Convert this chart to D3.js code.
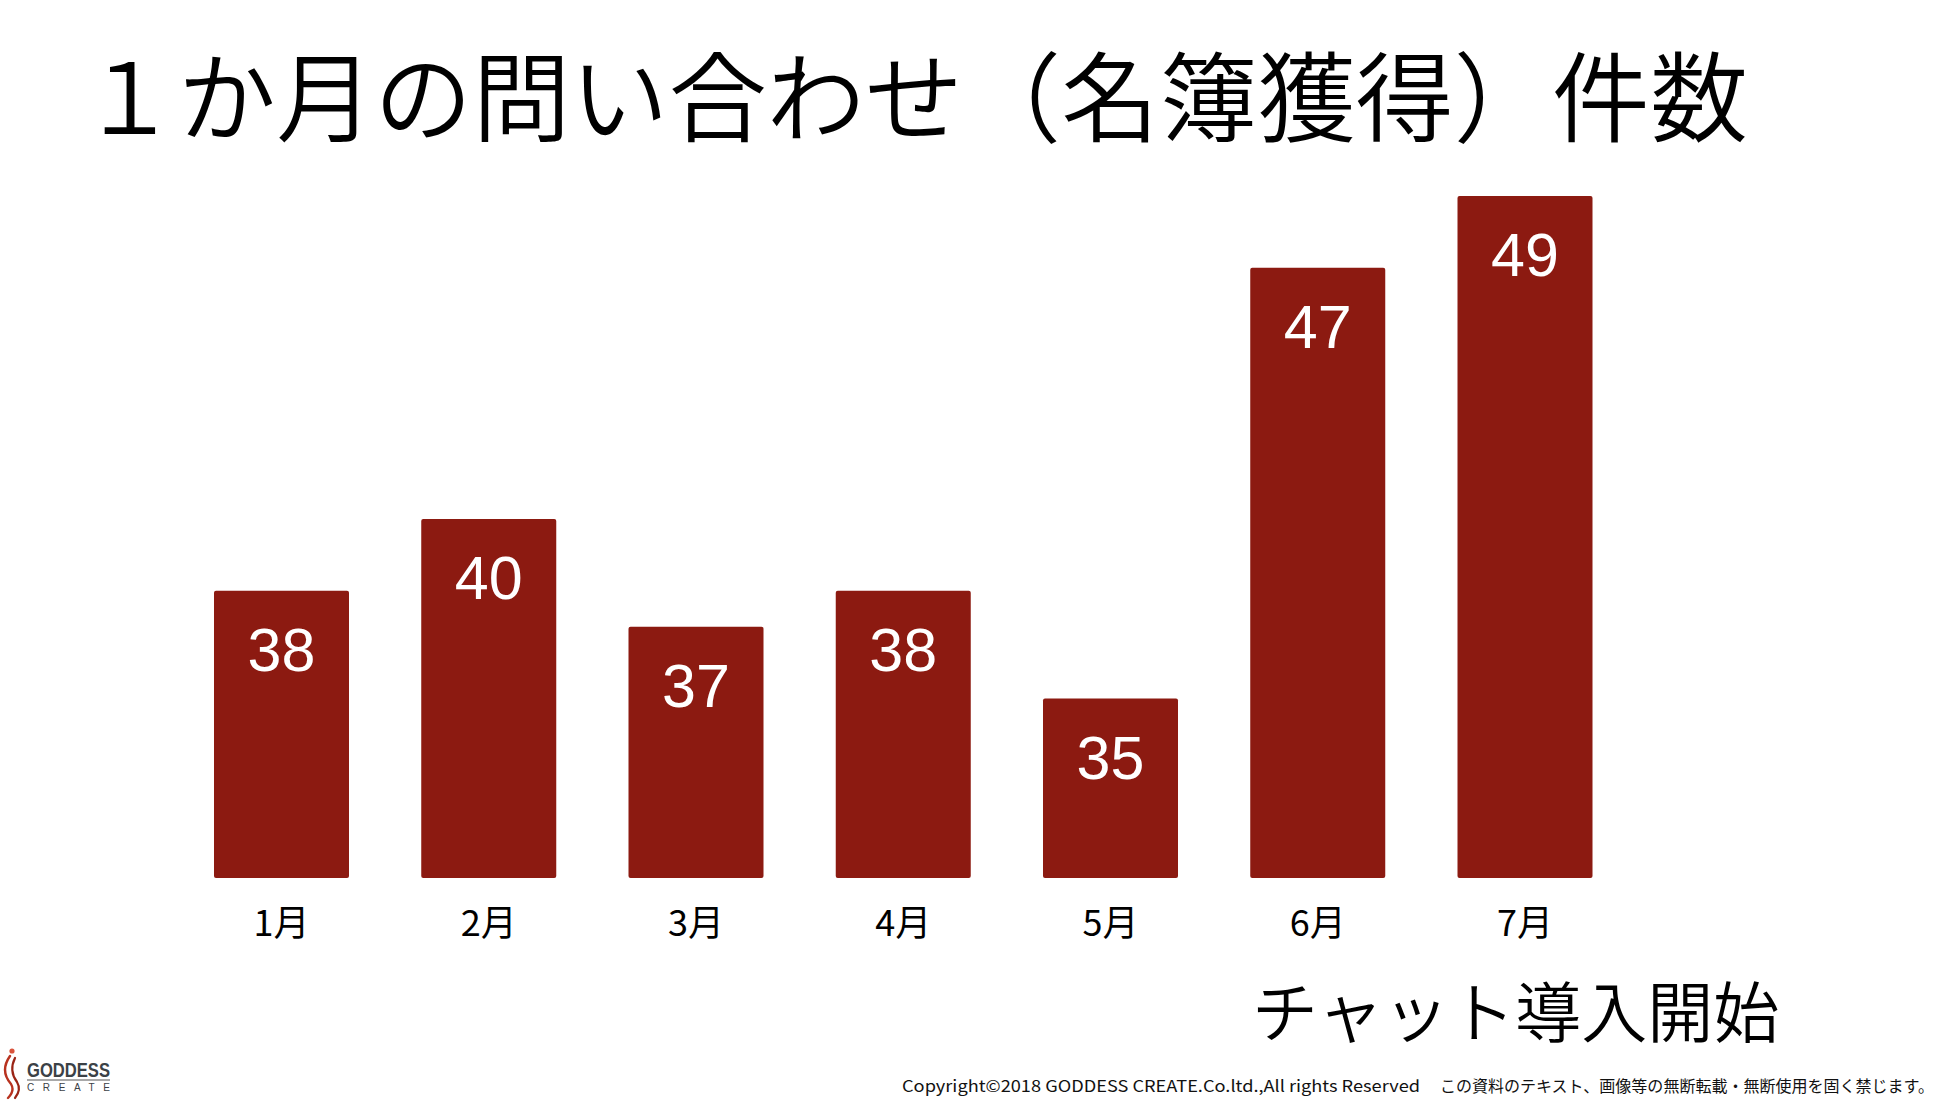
<!DOCTYPE html>
<html>
<head>
<meta charset="utf-8">
<script src="https://cdn.jsdelivr.net/npm/d3@7"></script>
<style>
html,body{margin:0;padding:0;background:#fff;}
svg{display:block;}
</style>
</head>
<body>
<svg id="chart" width="1946" height="1102"></svg>
<script>
const categories = ["1月","2月","3月","4月","5月","6月","7月"];
const values = [38, 40, 37, 38, 35, 47, 49];
const titleText = "１か月の問い合わせ（名簿獲得）件数";
const noteText = "チャット導入開始";
const copyrightEn = "Copyright©2018 GODDESS CREATE.Co.ltd.,All rights Reserved";
const copyrightJa = "この資料のテキスト、画像等の無断転載・無断使用を固く禁じます。";
const yDomain = [30, 50];

const svg = d3.select("#chart");
const barColor = "#8c1a11";
const cjk = "'Noto Sans CJK JP','Noto Sans',sans-serif";

const x = d3.scaleBand().domain(categories).range([141.75, 1664.75]).padding(0.3486);
const y = d3.scaleLinear().domain(yDomain).range([878, 160]);

// title
svg.append("text").attr("x", 80).attr("y", 134)
  .attr("font-family", cjk).attr("font-size", 98).attr("font-weight", 350).attr("fill", "#000")
  .attr("textLength", 1668).attr("lengthAdjust", "spacing")
  .text(titleText);

// bars
svg.append("g").selectAll("rect").data(values).join("rect")
  .attr("x", (d,i) => x(categories[i]))
  .attr("y", d => y(d))
  .attr("width", x.bandwidth())
  .attr("height", d => y(yDomain[0]) - y(d))
  .attr("rx", 2)
  .attr("fill", barColor);

// value labels
svg.append("g").selectAll("text").data(values).join("text")
  .attr("x", (d,i) => x(categories[i]) + x.bandwidth()/2)
  .attr("y", d => y(d) + 80)
  .attr("text-anchor", "middle")
  .attr("font-family", "'Liberation Sans',Arial,sans-serif")
  .attr("font-size", 61).attr("fill", "#fff")
  .text(d => d);

// x axis labels
const xAxis = d3.axisBottom(x).tickSize(0).tickPadding(0);
const ax = svg.append("g").attr("transform", "translate(0,878)").call(xAxis);
ax.select(".domain").remove();
ax.selectAll("text")
  .attr("y", 58).attr("dy", null)
  .attr("font-family", cjk).attr("font-size", 36).attr("fill", "#000");

// annotation
svg.append("text").attr("x", 1252).attr("y", 1037)
  .attr("font-family", cjk).attr("font-size", 66).attr("font-weight", 350).attr("fill", "#000")
  .text(noteText);

// copyright
svg.append("text").attr("x", 902).attr("y", 1092)
  .attr("font-family", cjk).attr("font-size", 16).attr("fill", "#111")
  .attr("textLength", 518).attr("lengthAdjust", "spacingAndGlyphs")
  .text(copyrightEn);
svg.append("text").attr("x", 1440).attr("y", 1092)
  .attr("font-family", cjk).attr("font-size", 16).attr("fill", "#111")
  .attr("textLength", 494).attr("lengthAdjust", "spacingAndGlyphs")
  .text(copyrightJa);

// logo
const logo = svg.append("g");
logo.append("circle").attr("cx", 12).attr("cy", 1051).attr("r", 2.6).attr("fill", "#d9533b");
logo.append("path").attr("d", "M10,1056 C3,1066 4,1076 11,1084 C14,1089 12,1094 8,1098")
  .attr("fill", "none").attr("stroke", "#b8321f").attr("stroke-width", 2.4).attr("stroke-linecap", "round");
logo.append("path").attr("d", "M15,1058 C11,1066 11,1074 17,1082 C20,1087 19,1093 15,1098")
  .attr("fill", "none").attr("stroke", "#9a2415").attr("stroke-width", 2.2).attr("stroke-linecap", "round");
logo.append("text").attr("x", 27).attr("y", 1077)
  .attr("font-family", "'Liberation Sans Narrow','Liberation Sans',Arial,sans-serif")
  .attr("font-weight", "bold").attr("font-size", 20).attr("fill", "#3b4146")
  .attr("textLength", 83).attr("lengthAdjust", "spacingAndGlyphs")
  .text("GODDESS");
logo.append("line").attr("x1", 27).attr("x2", 110).attr("y1", 1080).attr("y2", 1080)
  .attr("stroke", "#555").attr("stroke-width", 1);
logo.append("text").attr("x", 27).attr("y", 1091)
  .attr("font-family", "'Liberation Sans',Arial,sans-serif")
  .attr("font-size", 10).attr("fill", "#3b4146")
  .attr("textLength", 83).attr("lengthAdjust", "spacing")
  .text("CREATE");
</script>
</body>
</html>
